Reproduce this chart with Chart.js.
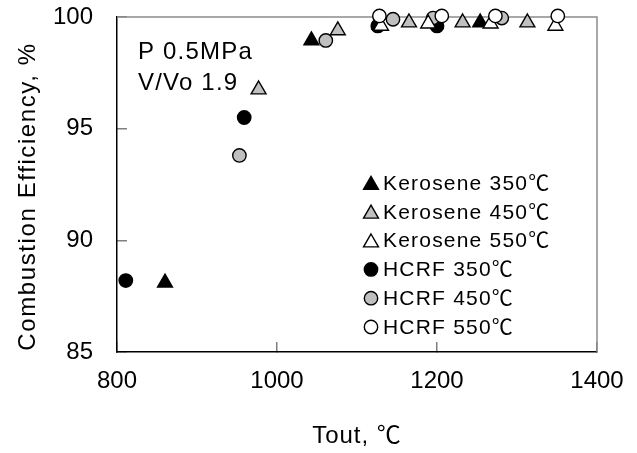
<!DOCTYPE html>
<html lang="en">
<head>
<meta charset="UTF-8">
<title>Combustion Efficiency vs Tout</title>
<script src="https://cdn.jsdelivr.net/npm/chart.js"></script>
<style>
    html, body { margin: 0; padding: 0; background: #fff; }
    .chart-box { width: 637px; height: 453px; }
</style>
</head>
<body>
<div class="chart-box">
    <canvas id="effChart" width="637" height="453"></canvas>
</div>
<script>
    // axis ticks
    const xTicks = [800, 1000, 1200, 1400];
    const yTicks = [85, 90, 95, 100];

    // series names, same order as the legend
    const seriesNames = ['Kerosene 350℃', 'Kerosene 450℃', 'Kerosene 550℃', 'HCRF 350℃', 'HCRF 450℃', 'HCRF 550℃'];

    // [Tout ℃, combustion efficiency %]
    const kero350 = [[860, 88.1], [1043, 98.95], [1128, 99.65], [1254, 99.75]];
    const kero450 = [[977, 96.75], [1076, 99.4], [1165, 99.75], [1232, 99.75], [1313, 99.75]];
    const kero550 = [[1130, 99.6], [1189, 99.7], [1267, 99.7], [1348, 99.6]];
    const hcrf350 = [[811, 88.2], [959, 95.5], [1126, 99.6], [1200, 99.6]];
    const hcrf450 = [[953, 93.8], [1061, 98.95], [1145, 99.9], [1195, 99.95], [1281, 99.95]];
    const hcrf550 = [[1128, 100.05], [1206, 100.05], [1273, 100.05], [1351, 100.05]];

    const notes = ['P 0.5MPa', 'V/Vo 1.9'];

    const allSeries = [kero350, kero450, kero550, hcrf350, hcrf450, hcrf550];
    const markers = ['triangle', 'triangle', 'triangle', 'circle', 'circle', 'circle'];
    const fills = ['#000000', '#c0c0c0', '#ffffff', '#000000', '#c0c0c0', '#ffffff'];
    const drawOrder = [5, 3, 1, 4, 2, 0]; // lower = drawn on top

    const sans = '"Liberation Sans", "Noto Sans CJK JP", sans-serif';

    function radiusFor(style) {
        return style === 'triangle' ? 8.6 : 6.7;
    }

    const datasets = allSeries.map((pts, i) => ({
        label: seriesNames[i],
        data: pts.map(p => ({ x: p[0], y: p[1] })),
        pointStyle: markers[i],
        pointRadius: radiusFor(markers[i]),
        pointBackgroundColor: fills[i],
        pointBorderColor: '#000',
        pointBorderWidth: 1.4,
        showLine: false,
        clip: false,
        order: drawOrder[i]
    }));

    // fixed box sizes, no extra room for overhanging labels
    function fixBox(size) {
        return s => {
            if (s.isHorizontal()) s.height = size; else s.width = size;
            s.paddingTop = 0;
            s.paddingBottom = 0;
            s.paddingLeft = 0;
            s.paddingRight = 0;
        };
    }

    // letter spacing for axis titles (the original font is wider)
    const spacingPlugin = {
        id: 'spacing',
        beforeDraw(chart) {
            Object.values(chart.scales).forEach(scale => {
                if (scale._spaced) return;
                scale._spaced = true;
                const drawTitle = scale.drawTitle;
                const isY = scale.axis === 'y';
                scale.drawTitle = function () {
                    this.ctx.save();
                    this.ctx.letterSpacing = isY ? '1.6px' : '1px';
                    if (isY) this.ctx.translate(0, 12);
                    drawTitle.call(this);
                    this.ctx.restore();
                };
            });
        }
    };

    // gray top and right frame lines
    const framePlugin = {
        id: 'frame',
        beforeDatasetsDraw(chart) {
            const ctx = chart.ctx;
            const a = chart.chartArea;
            ctx.save();
            ctx.strokeStyle = '#8c8c8c';
            ctx.lineWidth = 1.5;
            ctx.beginPath();
            ctx.moveTo(a.left, a.top);
            ctx.lineTo(a.right, a.top);
            ctx.lineTo(a.right, a.bottom);
            ctx.stroke();
            ctx.restore();
        }
    };

    // legend inside the plot, plus the condition notes
    const insideLegend = {
        id: 'insideLegend',
        afterDatasetsDraw(chart) {
            const ctx = chart.ctx;
            ctx.save();
            ctx.textBaseline = 'middle';
            ctx.textAlign = 'left';
            ctx.fillStyle = '#000';

            ctx.font = '24px ' + sans;
            ctx.letterSpacing = '1.2px';
            notes.forEach((t, i) => ctx.fillText(t, 138, 52 + i * 31));

            ctx.font = '21px ' + sans;
            ctx.letterSpacing = '1.2px';
            seriesNames.forEach((name, i) => {
                const y = 183 + i * 28.8;
                const tri = markers[i] === 'triangle';
                ctx.fillStyle = fills[i];
                ctx.strokeStyle = '#000';
                ctx.lineWidth = 1.4;
                Chart.helpers.drawPoint(ctx, {
                    pointStyle: markers[i],
                    radius: radiusFor(markers[i]),
                    borderWidth: 1.4,
                    rotation: 0
                }, 371, tri ? y + 2 : y);
                ctx.fillStyle = '#000';
                ctx.fillText(name, 383, y + 1);
            });
            ctx.restore();
        }
    };

    const chart = new Chart(document.getElementById('effChart'), {
        type: 'scatter',
        data: { datasets: datasets },
        options: {
            responsive: false,
            devicePixelRatio: 1,
            animation: false,
            events: [],
            layout: { padding: { top: 17, right: 40, left: 0, bottom: 0 } },
            plugins: {
                legend: { display: false },
                tooltip: { enabled: false }
            },
            scales: {
                x: {
                    type: 'linear',
                    min: xTicks[0],
                    max: xTicks[xTicks.length - 1],
                    afterBuildTicks: s => { s.ticks = xTicks.map(v => ({ value: v })); },
                    afterFit: fixBox(101),
                    grid: { drawOnChartArea: false, drawTicks: true, tickLength: -10, color: '#808080', lineWidth: 1.5 },
                    border: { color: '#000', width: 1.5 },
                    ticks: { color: '#000', padding: 25, maxRotation: 0, autoSkip: false, callback: v => String(v), font: { family: sans, size: 24 } },
                    title: { display: true, text: 'Tout, ℃', color: '#000', padding: { top: 0, bottom: 2 }, font: { family: sans, size: 24 } }
                },
                y: {
                    type: 'linear',
                    min: yTicks[0],
                    max: yTicks[yTicks.length - 1],
                    afterBuildTicks: s => { s.ticks = yTicks.map(v => ({ value: v })); },
                    afterFit: fixBox(117),
                    grid: { drawOnChartArea: false, drawTicks: true, tickLength: -10, color: '#808080', lineWidth: 1.5 },
                    border: { color: '#000', width: 1.5 },
                    ticks: { color: '#000', padding: 34, autoSkip: false, callback: v => String(v), font: { family: sans, size: 24 } },
                    title: { display: true, text: 'Combustion Efficiency, %', color: '#000', padding: { top: 14, bottom: 0 }, font: { family: sans, size: 24 } }
                }
            }
        },
        plugins: [spacingPlugin, framePlugin, insideLegend]
    });
    chart.draw();
</script>
</body>
</html>
